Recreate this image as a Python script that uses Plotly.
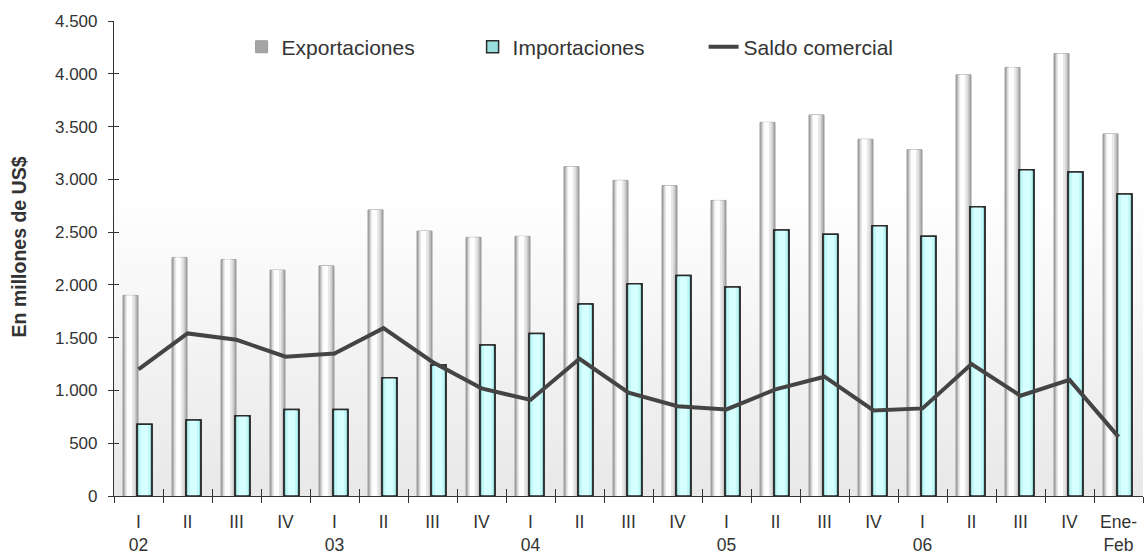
import plotly.graph_objects as go

# Trimestres 2002-2006 y Ene-Feb 2007
periodos = ["I-02", "II-02", "III-02", "IV-02",
            "I-03", "II-03", "III-03", "IV-03",
            "I-04", "II-04", "III-04", "IV-04",
            "I-05", "II-05", "III-05", "IV-05",
            "I-06", "II-06", "III-06", "IV-06",
            "Ene-Feb-07"]
etiquetas = ["I<br>02", "II", "III", "IV",
             "I<br>03", "II", "III", "IV",
             "I<br>04", "II", "III", "IV",
             "I<br>05", "II", "III", "IV",
             "I<br>06", "II", "III", "IV",
             "Ene-<br>Feb"]

# En millones de US$
exportaciones = [1900, 2260, 2240, 2140, 2180, 2710, 2510, 2450, 2460, 3120, 2990,
                 2940, 2800, 3540, 3610, 3380, 3280, 3990, 4060, 4190, 3430]
importaciones = [680, 720, 760, 820, 820, 1120, 1240, 1430, 1540, 1820, 2010,
                 2090, 1980, 2520, 2480, 2560, 2460, 2740, 3090, 3070, 2860]
saldo = [1200, 1540, 1480, 1320, 1350, 1590, 1270, 1020, 910, 1300, 980,
         850, 820, 1010, 1130, 810, 830, 1250, 950, 1100, 560]

FONT = "Liberation Sans, Arial, sans-serif"
TXT = "#333333"

fig = go.Figure()


def capa(valores, color, offset, width, nombre=None, borde=None, grosor=0, leyenda=False):
    return go.Bar(
        x=periodos, y=valores, name=nombre, offset=offset, width=width,
        marker=dict(color=color, line=dict(color=borde or color, width=grosor)),
        showlegend=leyenda, hoverinfo="skip",
    )


# Exportaciones: barras con sombreado cilíndrico (capas superpuestas)
fig.add_trace(capa(exportaciones, "#a4a4a4", -0.316, 0.306, "Exportaciones",
                   "#9a9a9a", 1, True))
fig.add_trace(capa(exportaciones, "#cbcbcb", -0.286, 0.245))
fig.add_trace(capa(exportaciones, "#e8e8e8", -0.265, 0.184))
fig.add_trace(capa(exportaciones, "#fdfdfd", -0.235, 0.102))

# Importaciones: celeste con borde oscuro
fig.add_trace(capa(importaciones, "#9adede", -0.031, 0.306, "Importaciones",
                   "#2b2b2b", 1.5, True))
fig.add_trace(capa(importaciones, "#c4f8f8", 0.010, 0.224))
fig.add_trace(capa(importaciones, "#d6ffff", 0.051, 0.143))
fig.add_trace(capa(importaciones, "rgba(0,0,0,0)", -0.031, 0.306, None,
                   "#2b2b2b", 1.5))

# Saldo comercial
fig.add_trace(go.Scatter(
    x=periodos, y=saldo, name="Saldo comercial", mode="lines",
    line=dict(color="#444444", width=4), hoverinfo="skip",
))

# Traza auxiliar para los ejes superpuestos (marcas de eje cruzadas)
fig.add_trace(go.Scatter(
    x=periodos, y=saldo, xaxis="x2", yaxis="y2", mode="lines",
    line=dict(width=0), opacity=0, showlegend=False, hoverinfo="skip",
))

# Fondo degradado del área de trazado
franjas = []
n = 48
g = 0.645
for i in range(n):
    t = i / n
    c = int(round(0xe8 + (0xff - 0xe8) * (t + 0.5 / n)))
    franjas.append(dict(
        type="rect", xref="paper", yref="paper", x0=0, x1=1,
        y0=g * i / n, y1=g * (i + 1) / n + 0.002,
        fillcolor=f"rgb({c},{c},{c})", line=dict(width=0), layer="below",
    ))

fig.update_layout(
    width=1144, height=556,
    margin=dict(l=114, r=1, t=21, b=60),
    paper_bgcolor="white", plot_bgcolor="white",
    barmode="overlay",
    separators=",.",
    font=dict(family=FONT, color=TXT, size=17),
    shapes=franjas,
    showlegend=True,
    legend=dict(
        orientation="h", x=0.124, y=0.945, xanchor="left", yanchor="middle",
        font=dict(family=FONT, size=21, color=TXT),
        bgcolor="rgba(0,0,0,0)", entrywidth=186, traceorder="normal",
    ),
    xaxis=dict(
        type="category", categoryorder="array", categoryarray=periodos,
        range=[-0.5, len(periodos) - 0.5],
        tickmode="array", tickvals=periodos, ticktext=etiquetas,
        tickson="boundaries", ticks="outside", ticklen=6, tickwidth=1.2,
        tickcolor="#333", showline=True, linecolor="#333", linewidth=1.2,
        showgrid=False, zeroline=False, ticklabelstandoff=10,
        tickfont=dict(size=17.5, color=TXT),
    ),
    yaxis=dict(
        range=[0, 4500], tick0=0, dtick=500, tickformat=",",
        ticks="outside", ticklen=5, tickwidth=1.2, tickcolor="#333",
        showline=True, linecolor="#333", linewidth=1.2,
        showgrid=False, zeroline=False, ticklabelstandoff=7,
        tickfont=dict(size=17, color=TXT),
    ),
    xaxis2=dict(
        type="category", overlaying="x", matches="x", anchor="y",
        categoryorder="array", categoryarray=periodos,
        tickson="boundaries", ticks="inside", ticklen=7, tickwidth=1.2,
        tickcolor="#333", showticklabels=False, showline=False,
        showgrid=False, zeroline=False,
    ),
    yaxis2=dict(
        overlaying="y", matches="y", anchor="x", side="left",
        tick0=0, dtick=500, ticks="inside", ticklen=5, tickwidth=1.2,
        tickcolor="#333", showticklabels=False, showline=False,
        showgrid=False, zeroline=False,
    ),
    annotations=[dict(
        text="<b>En millones de US$</b>", textangle=-90,
        xref="paper", yref="paper", x=-0.092, y=0.524,
        xanchor="center", yanchor="middle", showarrow=False,
        font=dict(family=FONT, size=19.5, color=TXT),
    )],
)

fig.write_html("out.html")
